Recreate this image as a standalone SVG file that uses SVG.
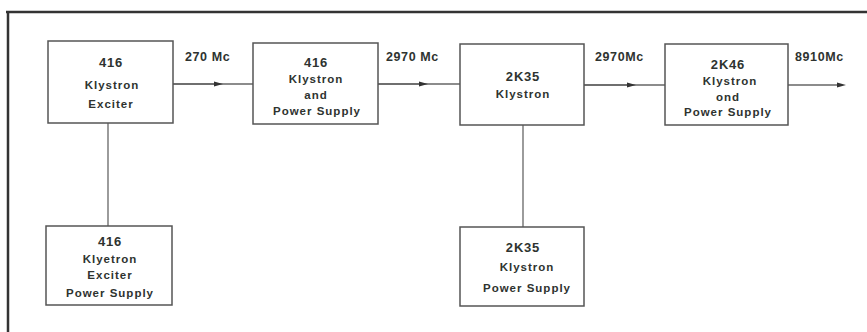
<svg xmlns="http://www.w3.org/2000/svg" width="867" height="332" viewBox="0 0 867 332">
<style>
.box{fill:#fff;stroke:#555;stroke-width:1.5}
.t{font-family:"Liberation Sans",Arial,sans-serif;font-weight:bold;font-size:11.5px;fill:#2e3330;text-anchor:middle;letter-spacing:1px}
.n{font-size:13px;letter-spacing:0.8px}
.lbl{font-family:"Liberation Sans",Arial,sans-serif;font-weight:bold;font-size:12.5px;fill:#2e3330;letter-spacing:0.6px}
.ln{stroke:#666;stroke-width:1.3;fill:none}
</style>
<defs>
<marker id="ah" markerWidth="10" markerHeight="6" refX="5" refY="3" orient="auto" markerUnits="userSpaceOnUse">
<path d="M0,0.5 L9,3 L0,5.5 Z" fill="#333"/>
</marker>
</defs>
<rect width="867" height="332" fill="#fff"/>
<g id="frame">
<line x1="6" y1="12" x2="867" y2="12" stroke="#333" stroke-width="2.5"/>
<line x1="8" y1="11" x2="8" y2="332" stroke="#333" stroke-width="2.5"/>
</g>
<g id="connectors">
<line class="ln" x1="173" y1="84" x2="253" y2="84"/>
<path class="ln" d="M173,84 L219,84" marker-end="url(#ah)"/>
<line class="ln" x1="378" y1="84" x2="460" y2="84"/>
<path class="ln" d="M378,84 L424,84" marker-end="url(#ah)"/>
<line class="ln" x1="584" y1="85" x2="665" y2="85"/>
<path class="ln" d="M584,85 L632,85" marker-end="url(#ah)"/>
<path class="ln" d="M788,85 L842,85" marker-end="url(#ah)"/>
<line class="ln" x1="108" y1="123" x2="108" y2="226"/>
<line class="ln" x1="523" y1="125" x2="523" y2="227"/>
<text class="lbl" x="185" y="61">270 Mc</text>
<text class="lbl" x="386" y="61">2970 Mc</text>
<text class="lbl" x="595" y="61">2970Mc</text>
<text class="lbl" x="795" y="61">8910Mc</text>
</g>
<g id="n1">
<rect class="box" x="48" y="41" width="125" height="82"/>
<text class="t n" x="111" y="67">416</text>
<text class="t" x="112" y="89">Klystron</text>
<text class="t" x="111" y="108">Exciter</text>
</g>
<g id="n2">
<rect class="box" x="253" y="43" width="125" height="81"/>
<text class="t n" x="316" y="67">416</text>
<text class="t" x="316" y="83">Klystron</text>
<text class="t" x="316" y="99">and</text>
<text class="t" x="317" y="115">Power Supply</text>
</g>
<g id="n3">
<rect class="box" x="460" y="44" width="124" height="81"/>
<text class="t n" x="523" y="81">2K35</text>
<text class="t" x="523" y="98">Klystron</text>
</g>
<g id="n4">
<rect class="box" x="665" y="44" width="123" height="81"/>
<text class="t n" x="728" y="69">2K46</text>
<text class="t" x="730" y="85">Klystron</text>
<text class="t" x="728" y="101">ond</text>
<text class="t" x="728" y="116">Power Supply</text>
</g>
<g id="n5">
<rect class="box" x="46" y="226" width="126" height="79"/>
<text class="t n" x="110" y="246">416</text>
<text class="t" x="110" y="263">Klyetron</text>
<text class="t" x="110" y="279">Exciter</text>
<text class="t" x="110" y="297">Power Supply</text>
</g>
<g id="n6">
<rect class="box" x="460" y="227" width="124" height="79"/>
<text class="t n" x="523" y="252">2K35</text>
<text class="t" x="527" y="271">Klystron</text>
<text class="t" x="527" y="292">Power Supply</text>
</g>
</svg>
